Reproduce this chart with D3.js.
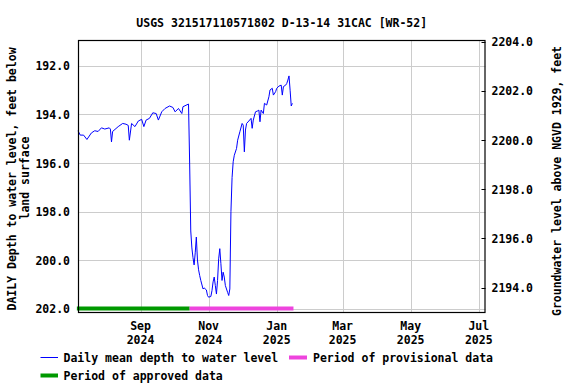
<!DOCTYPE html>
<html>
<head>
<meta charset="utf-8">
<script src="https://cdn.jsdelivr.net/npm/d3@7"></script>
<style>
  body { margin: 0; background: #fff; }
  text { font-family: "DejaVu Sans Mono", monospace; font-weight: bold; font-size: 11.5px; fill: #000; }
</style>
</head>
<body>
<div id="chart"></div>
<script>
// daily mean depth to water level (feet below land surface)
const obsDates = [
  "2024-07-07","2024-07-09","2024-07-12","2024-07-15","2024-07-19","2024-07-22","2024-07-25","2024-07-28",
  "2024-07-31","2024-08-04","2024-08-05","2024-08-06","2024-08-07","2024-08-12","2024-08-16","2024-08-19",
  "2024-08-21","2024-08-22","2024-08-24","2024-08-27","2024-08-30","2024-09-02","2024-09-04","2024-09-06",
  "2024-09-09","2024-09-12","2024-09-15","2024-09-17","2024-09-20","2024-09-23","2024-09-27","2024-09-30",
  "2024-10-02","2024-10-05","2024-10-08","2024-10-09","2024-10-14","2024-10-15","2024-10-16","2024-10-17",
  "2024-10-18","2024-10-19","2024-10-20","2024-10-21","2024-10-22","2024-10-23","2024-10-24","2024-10-25",
  "2024-10-27","2024-10-28","2024-10-30","2024-10-31","2024-11-01","2024-11-03","2024-11-04","2024-11-05",
  "2024-11-06","2024-11-07","2024-11-08","2024-11-09","2024-11-10","2024-11-11","2024-11-12","2024-11-13",
  "2024-11-14","2024-11-15","2024-11-16","2024-11-18","2024-11-19","2024-11-20","2024-11-21","2024-11-22",
  "2024-11-23","2024-11-24","2024-11-26","2024-11-27","2024-11-29","2024-12-01","2024-12-02","2024-12-03",
  "2024-12-04","2024-12-05","2024-12-07","2024-12-09","2024-12-10","2024-12-11","2024-12-13","2024-12-15",
  "2024-12-16","2024-12-17","2024-12-18","2024-12-20","2024-12-21","2024-12-23","2024-12-25","2024-12-26",
  "2024-12-28","2024-12-29","2024-12-31","2025-01-01","2025-01-03","2025-01-05","2025-01-06","2025-01-07",
  "2025-01-09","2025-01-10","2025-01-11","2025-01-12","2025-01-13","2025-01-14","2025-01-15"
];
const depthValues = [
  194.67,194.85,194.85,195.03,194.76,194.67,194.70,194.55,
  194.60,194.55,194.60,195.13,194.70,194.50,194.37,194.40,
  194.45,195.06,194.37,194.50,194.27,194.20,194.50,194.23,
  194.16,193.93,193.96,194.23,193.89,193.75,193.65,193.71,
  193.89,193.75,193.96,193.68,193.57,196.00,198.80,199.50,
  199.90,200.20,199.70,199.05,200.00,200.40,200.64,200.84,
  201.19,201.15,201.23,201.46,201.53,201.50,201.26,200.90,
  200.70,201.05,201.40,200.84,199.95,199.53,200.15,200.84,
  200.50,200.70,201.05,201.33,201.46,201.19,198.00,196.60,
  195.95,195.68,195.40,195.06,194.71,194.37,194.44,195.54,
  194.64,194.37,194.27,194.16,194.57,194.23,193.89,193.85,
  193.82,194.30,193.82,193.96,193.54,193.61,193.27,192.99,
  192.92,193.20,193.06,192.92,192.83,192.79,193.20,192.85,
  192.79,192.72,192.58,192.41,193.00,193.65,193.54
];

const approvedPeriod = ["2024-07-06", "2024-10-15"];
const provisionalPeriod = ["2024-10-15", "2025-01-16"];

const xTickDates = ["2024-09-01","2024-11-01","2025-01-01","2025-03-01","2025-05-01","2025-07-01"];
const xTickMonths = ["Sep","Nov","Jan","Mar","May","Jul"];
const xTickYears = ["2024","2024","2025","2025","2025","2025"];
const depthTicks = [192, 194, 196, 198, 200, 202];
const elevTicks = [2194, 2196, 2198, 2200, 2202, 2204];

const W = 576, H = 384;
const L = 78, R = 485.5, T = 40, B = 312;
const parse = d3.utcParse("%Y-%m-%d");

const svg = d3.select("#chart").append("svg")
  .attr("width", W).attr("height", H);

const x = d3.scaleUtc()
  .domain([parse("2024-07-07"), parse("2025-07-07")])
  .range([L, R]);
// depth axis runs downward
const y = d3.scaleLinear().domain([190.93, 202.14]).range([T, B]);
const y2 = d3.scaleLinear().domain([2204.07, 2193.01]).range([T, B]);

// grid
const grid = svg.append("g").attr("stroke", "#cccccc").attr("stroke-width", 1);
depthTicks.forEach(v => {
  const yy = Math.round(y(v)) + 0.5;
  grid.append("line").attr("x1", L).attr("x2", R).attr("y1", yy).attr("y2", yy);
});
xTickDates.forEach(d => {
  const xx = Math.round(x(parse(d))) + 0.5;
  grid.append("line").attr("x1", xx).attr("x2", xx).attr("y1", T).attr("y2", B);
});

// period bars
const barY = Math.round(y(202)) - 0.5;
svg.append("line")
  .attr("x1", x(parse(approvedPeriod[0]))).attr("x2", x(parse(approvedPeriod[1])))
  .attr("y1", barY).attr("y2", barY)
  .attr("stroke", "#009900").attr("stroke-width", 4);
svg.append("line")
  .attr("x1", x(parse(provisionalPeriod[0]))).attr("x2", x(parse(provisionalPeriod[1])))
  .attr("y1", barY).attr("y2", barY)
  .attr("stroke", "#ee44dd").attr("stroke-width", 4);

// data line
const series = obsDates.map((d, i) => ({ date: parse(d), depth: depthValues[i] }));
const line = d3.line().x(d => x(d.date)).y(d => y(d.depth));
svg.append("path").datum(series)
  .attr("d", line)
  .attr("fill", "none")
  .attr("stroke", "#0000ff")
  .attr("stroke-width", 1);

// frame
svg.append("rect")
  .attr("x", L + 0.5).attr("y", T + 0.5)
  .attr("width", R - L - 1).attr("height", B - T)
  .attr("fill", "none").attr("stroke", "#000").attr("stroke-width", 1.2);

// left ticks
depthTicks.forEach(v => {
  svg.append("text").attr("x", 70).attr("y", y(v) + 4.5)
    .attr("text-anchor", "end").text(v.toFixed(1));
});
// right ticks
elevTicks.forEach(v => {
  const yy = Math.round(y2(v)) + 0.5;
  svg.append("line").attr("x1", R - 4).attr("x2", R).attr("y1", yy).attr("y2", yy)
    .attr("stroke", "#000");
  svg.append("text").attr("x", 491.5).attr("y", y2(v) + 4.5).text(v.toFixed(1));
});
// x tick labels
xTickDates.forEach((d, i) => {
  const xx = x(parse(d));
  svg.append("text").attr("x", xx).attr("y", 330).attr("text-anchor", "middle").text(xTickMonths[i]);
  svg.append("text").attr("x", xx).attr("y", 343.5).attr("text-anchor", "middle").text(xTickYears[i]);
});

// title
svg.append("text").attr("x", (L + R) / 2).attr("y", 26.5).attr("text-anchor", "middle")
  .text("USGS 321517110571802 D-13-14 31CAC [WR-52]");

// axis titles
svg.append("text").attr("transform", "translate(16,179) rotate(-90)")
  .attr("text-anchor", "middle").text("DAILY Depth to water level, feet below");
svg.append("text").attr("transform", "translate(28.5,178) rotate(-90)")
  .attr("text-anchor", "middle").text("land surface");
svg.append("text").attr("transform", "translate(561,181) rotate(-90)")
  .attr("text-anchor", "middle").text("Groundwater level above NGVD 1929, feet");

// legend
const lg = svg.append("g");
lg.append("line").attr("x1", 40.5).attr("x2", 58).attr("y1", 357.5).attr("y2", 357.5)
  .attr("stroke", "#0000ff").attr("stroke-width", 1);
lg.append("text").attr("x", 63.5).attr("y", 361.5).text("Daily mean depth to water level");
lg.append("line").attr("x1", 289).attr("x2", 307).attr("y1", 357.5).attr("y2", 357.5)
  .attr("stroke", "#ee44dd").attr("stroke-width", 4);
lg.append("text").attr("x", 313).attr("y", 361.5).text("Period of provisional data");
lg.append("line").attr("x1", 40.5).attr("x2", 58).attr("y1", 375.5).attr("y2", 375.5)
  .attr("stroke", "#009900").attr("stroke-width", 4);
lg.append("text").attr("x", 63.5).attr("y", 379.5).text("Period of approved data");
</script>
</body>
</html>
